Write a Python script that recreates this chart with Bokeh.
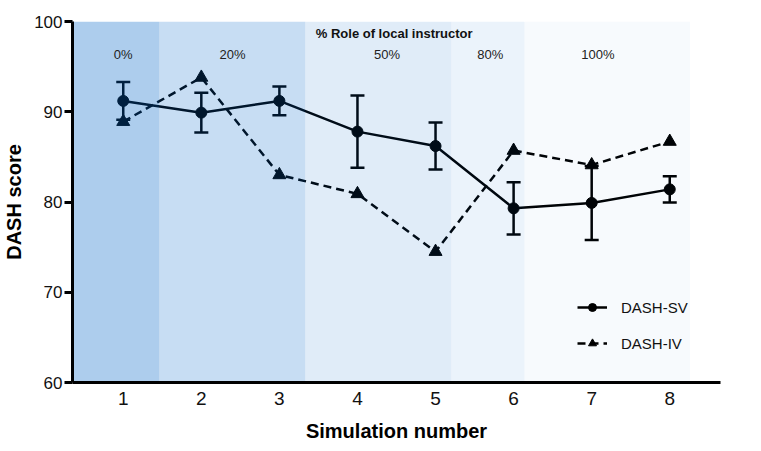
from bokeh.plotting import figure
from bokeh.models import (ColumnDataSource, Whisker, TeeHead, Legend, LegendItem,
                          FixedTicker, Range1d)
from bokeh.core.properties import value
from bokeh.embed import file_html
from bokeh.resources import INLINE

# ---- data ----
simulation = [1, 2, 3, 4, 5, 6, 7, 8]
dash_sv = [91.2, 89.9, 91.2, 87.8, 86.2, 79.3, 79.9, 81.4]
dash_sv_err = [2.1, 2.2, 1.6, 4.0, 2.6, 2.9, 4.1, 1.45]
dash_iv = [88.9, 93.8, 83.0, 80.9, 74.5, 85.7, 84.1, 86.7]

band_edges = [0.35, 1.46, 3.33, 5.2, 6.14, 8.26]
band_alpha = [0.32, 0.22, 0.12, 0.08, 0.03]
band_labels = ["0%", "20%", "50%", "80%", "100%"]
band_label_x = [1.0, 2.4, 4.38, 5.7, 7.08]
band_title = "% Role of local instructor"

FONT = "Liberation Sans"

p = figure(width=745, height=435, output_backend="svg", toolbar_location=None,
           x_range=Range1d(0.35, 8.65), y_range=Range1d(60, 100),
           frame_width=648, frame_height=361,
           min_border_left=72, min_border_right=25, min_border_top=21,
           min_border_bottom=53)
p.outline_line_color = None
p.xgrid.visible = False
p.ygrid.visible = False
p.background_fill_color = "white"

# series
sv_src = ColumnDataSource(dict(
    x=simulation, y=dash_sv,
    upper=[v + e for v, e in zip(dash_sv, dash_sv_err)],
    lower=[v - e for v, e in zip(dash_sv, dash_sv_err)]))
iv_src = ColumnDataSource(dict(x=simulation, y=dash_iv))

wh = Whisker(base="x", upper="upper", lower="lower", source=sv_src,
             line_color="black", line_width=2.5,
             upper_head=TeeHead(size=14, line_width=2.5, line_color="black"),
             lower_head=TeeHead(size=14, line_width=2.5, line_color="black"))
p.add_layout(wh)

iv_line = p.line("x", "y", source=iv_src, line_color="black", line_width=2.5,
                 line_dash="8 5")
iv_pts = p.scatter("x", "y", source=iv_src, marker="triangle", size=13,
                   fill_color="black", line_color="black")
sv_line = p.line("x", "y", source=sv_src, line_color="black", line_width=2.5)
sv_pts = p.scatter("x", "y", source=sv_src, marker="circle", size=11,
                   fill_color="black", line_color="black")

# translucent bands on top (tinting the lines beneath)
p.quad(left=band_edges[:-1], right=band_edges[1:], bottom=60, top=100,
       fill_color="#0064c8", fill_alpha=band_alpha, line_color=None)

# band labels
p.text(x=band_label_x, y=[96.35] * len(band_labels), text=band_labels,
       text_font=value(FONT), text_font_size="13px", text_color="#222222",
       text_align="center", text_baseline="middle")
p.text(x=[4.47], y=[98.67], text=[band_title], text_font=value(FONT),
       text_font_size="13px", text_font_style="bold", text_color="#111111",
       text_align="center", text_baseline="middle")

# axes
for ax in (p.xaxis[0], p.yaxis[0]):
    ax.axis_line_width = 3
    ax.axis_line_color = "black"
    ax.minor_tick_line_color = None
    ax.major_label_text_font = FONT
    ax.major_label_text_color = "#111111"
    ax.axis_label_text_font = FONT
    ax.axis_label_text_font_style = "bold"
    ax.axis_label_text_font_size = "20px"
    ax.axis_label_text_color = "black"

p.xaxis.ticker = FixedTicker(ticks=simulation)
p.xaxis.major_tick_out = 0
p.xaxis.major_tick_in = 0
p.xaxis.major_label_text_font_size = "19px"
p.xaxis.major_label_standoff = 9
p.xaxis.axis_label = "Simulation number"
p.xaxis.axis_label_standoff = 12

p.yaxis.ticker = FixedTicker(ticks=[60, 70, 80, 90, 100])
p.yaxis.major_tick_out = 8
p.yaxis.major_tick_in = 0
p.yaxis.major_tick_line_width = 3
p.yaxis.major_label_text_font_size = "17px"
p.yaxis.major_label_standoff = 2
p.yaxis.axis_label = "DASH score"
p.yaxis.axis_label_standoff = 6

legend = Legend(items=[LegendItem(label="DASH-SV", renderers=[sv_line, sv_pts]),
                       LegendItem(label="DASH-IV", renderers=[iv_line, iv_pts])],
                location=(505, 29), border_line_color=None,
                background_fill_alpha=0, label_text_font=FONT,
                label_text_font_size="15px", label_text_color="#111111",
                glyph_width=30, glyph_height=20,
                label_height=20, spacing=16, padding=0, margin=0,
                label_standoff=14)
p.add_layout(legend)

open("out.html", "w").write(file_html(p, INLINE))
